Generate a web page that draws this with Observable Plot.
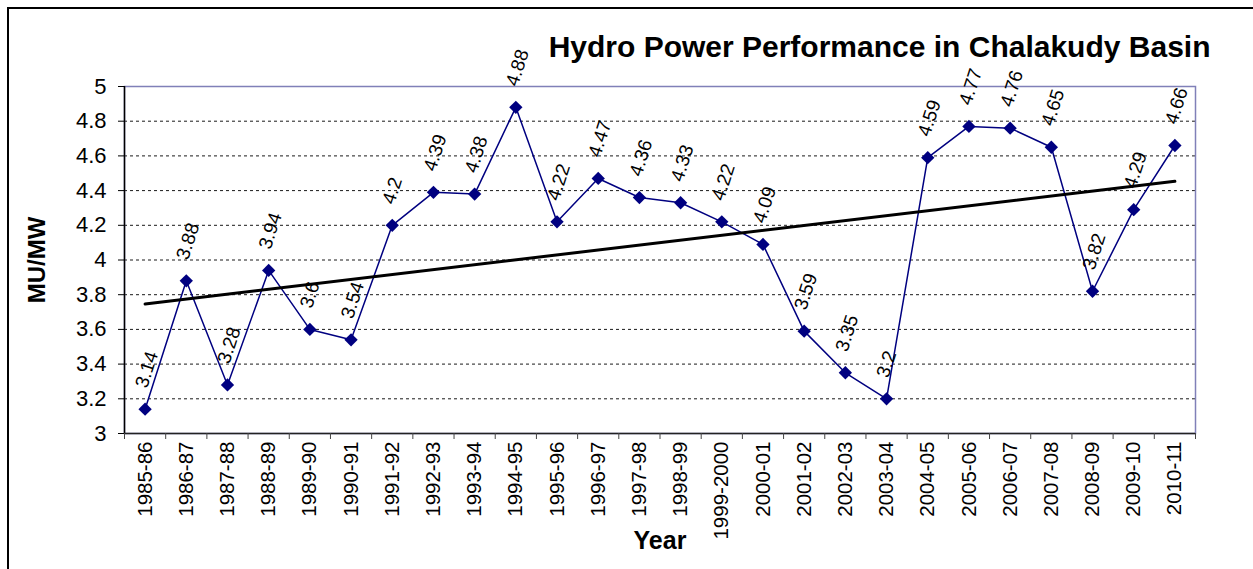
<!DOCTYPE html>
<html><head><meta charset="utf-8">
<script src="https://cdn.jsdelivr.net/npm/d3@7"></script>
<script src="https://cdn.jsdelivr.net/npm/@observablehq/plot@0.6"></script>
<style>
body{margin:0;background:#fff;overflow:hidden;}
#wrap{position:relative;width:1253px;height:569px;overflow:hidden;}
#border{position:absolute;left:7px;top:7px;width:1400px;height:700px;border:2.5px solid #000;box-sizing:border-box;pointer-events:none}
svg{display:block}
</style></head><body><div id="wrap"><div id="border"></div></div>
<script>
const years = ["1985-86","1986-87","1987-88","1988-89","1989-90","1990-91","1991-92","1992-93","1993-94","1994-95","1995-96","1996-97","1997-98","1998-99","1999-2000","2000-01","2001-02","2002-03","2003-04","2004-05","2005-06","2006-07","2007-08","2008-09","2009-10","2010-11"];
const values = [3.14,3.88,3.28,3.94,3.6,3.54,4.2,4.39,4.38,4.88,4.22,4.47,4.36,4.33,4.22,4.09,3.59,3.35,3.2,4.59,4.77,4.76,4.65,3.82,4.29,4.66];
const yTicks = [3,3.2,3.4,3.6,3.8,4,4.2,4.4,4.6,4.8,5];
const titleText = "Hydro Power Performance in Chalakudy Basin";
const yLabel = "MU/MW";
const xLabel = "Year";

const data = years.map((y, i) => ({i, year: y, value: values[i]}));
const bounds = d3.range(years.length + 1).map(i => i - 0.5);
const font = "'Liberation Sans', Arial, sans-serif";

const chart = Plot.plot({
  width: 1253, height: 569,
  marginLeft: 124, marginRight: 58, marginTop: 86, marginBottom: 136,
  style: {fontFamily: font, background: "transparent", overflow: "visible", color: "#000"},
  x: {type: "linear", domain: [-0.5, years.length - 0.5], axis: null},
  y: {domain: [3, 5], axis: null},
  marks: [
    Plot.gridY(yTicks.filter(t => t > 3 && t < 5), {stroke: "#000", strokeOpacity: 0.9, strokeDasharray: "3,3", strokeWidth: 1}),
    Plot.frame({stroke: "#8080b8", strokeWidth: 1.5}),
    Plot.ruleX([-0.5], {stroke: "#000", strokeWidth: 1.5}),
    Plot.ruleY([3], {stroke: "#222", strokeWidth: 1.5}),
    Plot.axisY({ticks: yTicks, tickSize: 6, tickPadding: 12, tickFormat: d => String(+d.toFixed(1)), fontSize: 22, label: null, stroke: "#000"}),
    Plot.axisX({ticks: bounds, tickSize: 6, tickFormat: () => "", label: null, stroke: "#444"}),
    Plot.axisX({ticks: d3.range(years.length), tickSize: 0, tickPadding: 8, tickRotate: -90, tickFormat: i => years[i], fontSize: 20.5, label: null}),
    Plot.line(data, {x: "i", y: "value", stroke: "#000080", strokeWidth: 1.5}),
    Plot.linearRegressionY(data, {x: "i", y: "value", stroke: "#000", strokeWidth: 3, ci: 0}),
    Plot.dot(data, {x: "i", y: "value", symbol: "diamond2", r: 6, fill: "#000080", stroke: "none"}),
    Plot.text(data, {x: "i", y: "value", text: d => String(d.value), rotate: -72, textAnchor: "start", dx: -4, dy: -22, fontSize: 19, fill: "#000"}),
    Plot.text([titleText], {frameAnchor: "top-right", textAnchor: "end", lineAnchor: "middle", dx: 15, dy: -39, fontSize: 30, fontWeight: "bold", fill: "#000"}),
    Plot.text([yLabel], {frameAnchor: "left", textAnchor: "middle", lineAnchor: "middle", rotate: -90, dx: -87, fontSize: 24, fontWeight: "bold", fill: "#000"}),
    Plot.text([xLabel], {frameAnchor: "bottom", textAnchor: "middle", lineAnchor: "middle", dy: 107, fontSize: 25, fontWeight: "bold", fill: "#000"})
  ]
});
document.getElementById("wrap").prepend(chart);
</script></body></html>
